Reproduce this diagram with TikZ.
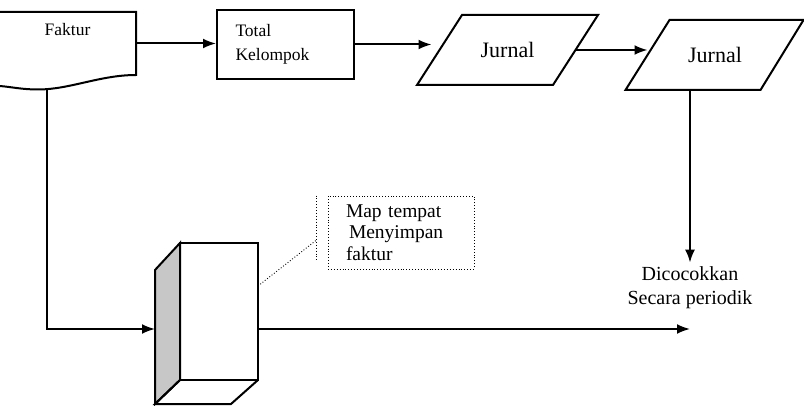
\documentclass[tikz,border=0pt]{standalone}
\usepackage{fontspec}
\setmainfont{Liberation Serif}
\usetikzlibrary{arrows.meta,positioning,calc}

\begin{document}
\begin{tikzpicture}[x=1pt, y=-1pt, line width=2pt,
		panah/.style={-{Latex[length=13pt,width=10pt]}},
		kecil/.style={font=\fontsize{17.5}{24}\selectfont},
		besar/.style={font=\fontsize{20}{24}\selectfont},
		kotak/.style={draw, minimum width=137pt, minimum height=69pt, text width=100pt, align=left, kecil},
		badan/.style={minimum width=134pt, minimum height=68pt, inner sep=0pt, font=\fontsize{22}{24}\selectfont}]
	\useasboundingbox (0,0) rectangle (804,406);

	% Dokumen faktur (tepi bawah bergelombang)
	\node[minimum width=135pt, minimum height=61pt, inner sep=0pt] (faktur) at (67.5,43.5) {};
	\draw (faktur.south west) ++(0.8,11) .. controls (12,87) and (22,89.5) .. (38,89.5)
		.. controls (70,89.5) and (100,75) .. (faktur.south east) -- (faktur.north east) -- ([xshift=0.8pt]faktur.north west);
	\node[kecil, below=7pt of faktur.north] (fakturteks) {Faktur};

	% Total kelompok dan jurnal
	\node[kotak] (total) at (285.5,44.5) {Total\\Kelompok};
	\node[badan] (jurnalA) at (507.5,50) {Jurnal};
	\node[badan, minimum width=133pt] (jurnalB) at (715,55) {Jurnal};
	\draw ([xshift=22.5pt]jurnalA.north west) -- ([xshift=22.5pt]jurnalA.north east) -- ([xshift=-22.5pt]jurnalA.south east) -- ([xshift=-22.5pt]jurnalA.south west) -- cycle;
	\draw ([xshift=22pt]jurnalB.north west) -- ([xshift=21pt]jurnalB.north east) -- ([xshift=-22pt]jurnalB.south east) -- ([xshift=-22pt]jurnalB.south west) -- cycle;

	% Hasil pencocokan
	\node[besar, align=center] (cocok) at (690,288) {Dicocokkan\\Secara periodik};

	% Map tempat menyimpan faktur
	\node[minimum width=76pt, minimum height=135pt, inner sep=0pt] (map) at (219,311.5) {};
	\draw[fill=gray!44] (map.north west) -- (map.south west) -- ++(-25,24) -- ++(0,-134) -- cycle;
	\draw (map.south west) -- ++(-25,24) -- ++(76,0) -- (map.south east);
	\draw (map.north west) rectangle (map.south east);
	\coordinate (masuk) at ([xshift=-25pt,yshift=-17.5pt]map.west);

	% Keterangan (callout bertitik)
	\node[draw, dotted, line width=0.9pt, minimum width=146pt, minimum height=73pt, text width=110pt, align=left, font=\fontsize{19.5}{21.5}\selectfont] (ket) at (401,232.5) {Map tempat\\\hspace*{3pt}Menyimpan\\faktur};
	\draw[dotted, line width=0.9pt] ([xshift=-11pt]ket.north west) -- ++(0,64);
	\draw[dotted, line width=0.9pt] ([yshift=-43pt]map.north east) -- ([xshift=-11pt,yshift=-7.5pt]ket.west);

	% Arus
	\draw[panah] (faktur.east) -- (faktur.east -| total.west);
	\draw[panah] (total.east) -- ([xshift=-8pt]jurnalA.west |- total.east);
	\draw[panah] (jurnalA.east) -- (jurnalA.east -| jurnalB.west);
	\draw[panah] (cocok.north |- jurnalB.south) -- (cocok.north);
	\draw[panah] ([xshift=48pt,yshift=-14pt]faktur.south west) |- (masuk);
	\draw[panah] (map.east |- masuk) -- (cocok |- masuk);
\end{tikzpicture}
\end{document}
